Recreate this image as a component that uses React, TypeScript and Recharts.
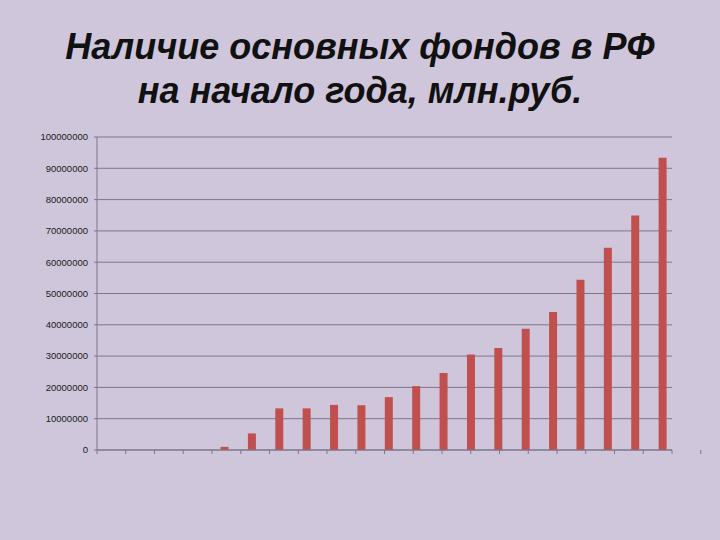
import { Bar, BarChart, CartesianGrid, XAxis, YAxis } from 'recharts'

// Years at the start of which the stock of fixed assets is counted (no labels are shown on the axis)
const YEARS = [
  '1990', '1991', '1992', '1993', '1994', '1995', '1996', '1997', '1998', '1999', '2000',
  '2001', '2002', '2003', '2004', '2005', '2006', '2007', '2008', '2009', '2010',
]

// Fixed assets, mln rub. (first years show no bar)
const VALUES: Array<number | null> = [
  null, null, null, null, 1000000, 5300000, 13300000, 13300000, 14400000, 14300000,
  16900000, 20400000, 24600000, 30500000, 32600000, 38700000, 44100000, 54400000,
  64600000, 74900000, 93400000,
]

// The source sheet had an empty first series, which pushes the bars right of centre
const EMPTY: Array<number | null> = YEARS.map(() => null)

const Y_TICKS = [0, 10000000, 20000000, 30000000, 40000000, 50000000, 60000000, 70000000, 80000000, 90000000, 100000000]
const BOUNDARY_TICKS = Array.from({ length: YEARS.length + 1 }, (_, i) => i)

const BG = '#cfc6dc'
const LINE = '#7d7689'
const BAR = '#c0504d'

export default function App() {
  const data = YEARS.map((year, i) => ({ year, empty: EMPTY[i], value: VALUES[i] }))

  return (
    <div
      style={{
        position: 'absolute',
        left: 0,
        top: 0,
        width: 720,
        height: 540,
        background: BG,
        overflow: 'hidden',
      }}
    >
      <div
        style={{
          position: 'absolute',
          left: 0,
          top: 25,
          width: 720,
          textAlign: 'center',
          fontFamily: '"Liberation Sans", Arial, sans-serif',
          fontStyle: 'italic',
          fontWeight: 'bold',
          fontSize: 36,
          lineHeight: '44px',
          color: '#111',
        }}
      >
        Наличие основных фондов в РФ
        <br />
        на начало года, млн.руб.
      </div>
      <div style={{ position: 'absolute', left: 0, top: 0 }}>
        <BarChart
          width={720}
          height={540}
          data={data}
          margin={{ top: 137, right: 48, bottom: 80, left: 0 }}
          barSize={8}
          barGap={0}
        >
          <CartesianGrid horizontal vertical={false} stroke={LINE} strokeWidth={1} />
          <XAxis xAxisId="cat" dataKey="year" hide />
          <XAxis
            xAxisId="bounds"
            type="number"
            domain={[0, YEARS.length]}
            ticks={BOUNDARY_TICKS}
            tickFormatter={() => ''}
            stroke={LINE}
            tickSize={4}
            height={10}
            interval={0}
            allowDataOverflow
          />
          <YAxis
            domain={[0, 100000000]}
            ticks={Y_TICKS}
            width={97}
            stroke={LINE}
            tickSize={3}
            tickMargin={6}
            tick={{ fill: '#1a1a1a', fontSize: 9.5, fontFamily: '"Liberation Sans", Arial, sans-serif' }}
            interval={0}
          />
          <Bar xAxisId="cat" dataKey="empty" fill={BAR} isAnimationActive={false} />
          <Bar xAxisId="cat" dataKey="value" fill={BAR} isAnimationActive={false} />
        </BarChart>
      </div>
    </div>
  )
}
